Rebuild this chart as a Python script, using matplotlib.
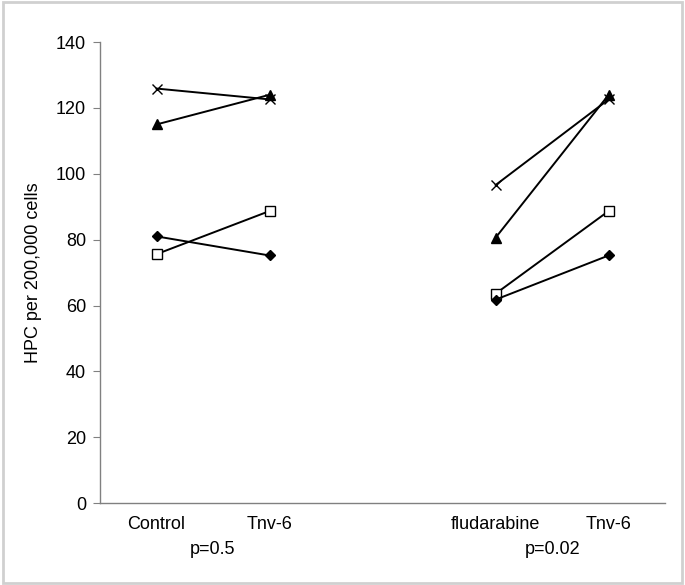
import matplotlib.pyplot as plt

plt.rcParams['font.family'] = ['Liberation Sans', 'DejaVu Sans']

# category slots (slot 2 left empty as a gap between the two groups)
labels = ['Control', 'Tnv-6', 'fludarabine', 'Tnv-6']
slots = [0, 1, 3, 4]
p_labels = ['p=0.5', 'p=0.02']

# each donor: [before, after] for control pair and fludarabine pair
ctrl_x = [125.9, 122.6]
ctrl_tri = [115.0, 124.0]
ctrl_sq = [75.6, 88.7]
ctrl_dia = [81.0, 75.2]

flu_x = [96.6, 122.6]
flu_tri = [80.6, 124.0]
flu_sq = [63.6, 88.7]
flu_dia = [61.8, 75.2]

fig = plt.figure(figsize=(6.85, 5.85), dpi=100)
ax = fig.add_axes([0.146, 0.140, 0.825, 0.788])

def pair(xs, ys, marker, ms, fc):
    ax.plot(xs, ys, color='black', lw=1.4, marker=marker, ms=ms,
            markerfacecolor=fc, markeredgecolor='black', markeredgewidth=1.0)

for xs, grp in [(slots[:2], (ctrl_x, ctrl_tri, ctrl_sq, ctrl_dia)),
                (slots[2:], (flu_x, flu_tri, flu_sq, flu_dia))]:
    pair(xs, grp[0], 'x', 7, 'black')
    pair(xs, grp[1], '^', 7, 'black')
    pair(xs, grp[2], 's', 6.5, 'white')
    pair(xs, grp[3], 'D', 5, 'black')

ax.set_xlim(-0.5, 4.5)
ax.set_ylim(0, 140)
ax.set_yticks(range(0, 141, 20))
ax.set_xticks([])
ax.tick_params(axis='y', direction='out', length=5, color='#808080',
               labelsize=13, pad=5)
for s in ['top', 'right']:
    ax.spines[s].set_visible(False)
for s in ['left', 'bottom']:
    ax.spines[s].set_color('#808080')
    ax.spines[s].set_linewidth(1.0)

ax.set_ylabel('HPC per 200,000 cells', fontsize=13, labelpad=10)

for x, lab in zip(slots, labels):
    ax.text(x, -0.046, lab, transform=ax.get_xaxis_transform(),
            ha='center', va='center', fontsize=13)
for (a, b), lab in zip([(slots[0], slots[1]), (slots[2], slots[3])], p_labels):
    ax.text((a + b) / 2, -0.1, lab, transform=ax.get_xaxis_transform(),
            ha='center', va='center', fontsize=13)

# light grey frame round the whole picture
fig.patches.append(plt.Rectangle((0.004, 0.004), 0.992, 0.992, fill=False,
                                 edgecolor='#d0d0d0', lw=2,
                                 transform=fig.transFigure))

fig.savefig('out.png', dpi=100)
